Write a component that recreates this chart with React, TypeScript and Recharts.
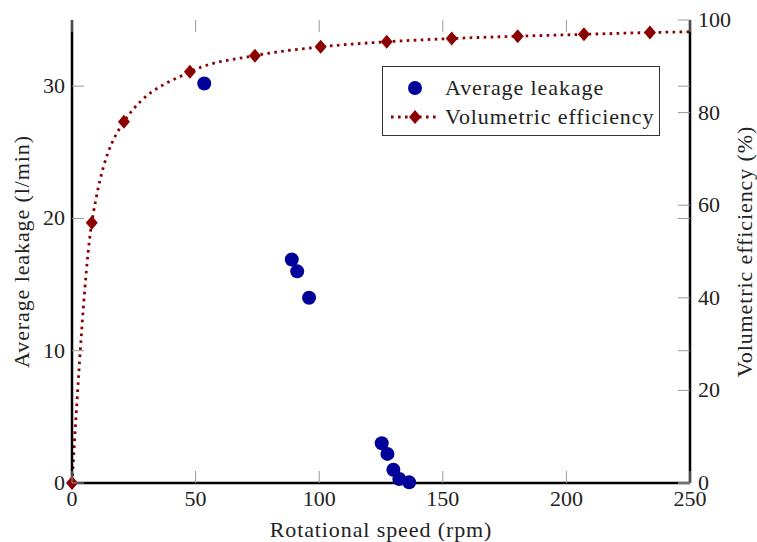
import React from 'react';
import {
  ComposedChart,
  Line,
  Scatter,
  XAxis,
  YAxis,
  Legend
} from 'recharts';

// Rotational speed ticks / axis ranges
const speedTicks = [0, 50, 100, 150, 200, 250];
const leakTicks = [0, 10, 20, 30];
const effTicks = [0, 20, 40, 60, 80, 100];
const SPEED_MAX = 250;

// Average leakage (l/min) vs rotational speed (rpm)
const leakSpeed = [53.5, 88.9, 91.1, 95.9, 125.3, 127.6, 130.0, 132.4, 136.4];
const leakValue = [30.2, 16.9, 16.0, 14.0, 3.0, 2.2, 1.0, 0.3, 0.05];

// Volumetric efficiency (%) vs rotational speed (rpm), last point runs past the axis
const effSpeed = [0, 8.0, 21.0, 47.7, 74.0, 100.6, 127.3, 153.6, 180.3, 207.1, 233.8, 260.5];
const effValue = [0, 56.2, 78.0, 88.8, 92.3, 94.2, 95.3, 96.0, 96.5, 96.9, 97.3, 97.5];

const W = 757;
const H = 542;
const LEFT_W = 72;
const RIGHT_W = 67;
const TOP = 20;
const BOTTOM_H = 59;
const PW = W - LEFT_W - RIGHT_W;
const PH = H - TOP - BOTTOM_H;

const FONT = "'Liberation Serif', 'Times New Roman', serif";
const TEXT = '#222';
const TICK = '#999';
const BLUE = '#00009a';
const RED = '#8b0000';
const TICK_LEN = 12;
const DASH = '2.6 4.4';

const leakData = leakSpeed.map((s, i) => ({ speed: s, leak: leakValue[i] }));
const effData = effSpeed.map((s, i) => ({ speed: s, eff: effValue[i] }));
// markers only for the points inside the x range (not clipped at the corner)
const effMarkers = effData.filter((d) => d.speed <= SPEED_MAX);

const BottomTick = (props: any) => {
  const { x, y, payload } = props;
  return (
    <g>
      <line x1={x} x2={x} y1={y} y2={y - TICK_LEN} stroke={TICK} strokeWidth={1} />
      <line x1={x} x2={x} y1={y - PH} y2={y - PH + TICK_LEN} stroke={TICK} strokeWidth={1} />
      <text x={x} y={y + 23} textAnchor="middle" fontFamily={FONT} fontSize={22} fill={TEXT}>
        {payload.value}
      </text>
    </g>
  );
};

const LeftTick = (props: any) => {
  const { x, y, payload } = props;
  return (
    <g>
      <line x1={x} x2={x + TICK_LEN} y1={y} y2={y} stroke={TICK} strokeWidth={1} />
      <line x1={x + PW} x2={x + PW - TICK_LEN} y1={y} y2={y} stroke={TICK} strokeWidth={1} />
      <text x={x - 7} y={y + 7} textAnchor="end" fontFamily={FONT} fontSize={22} fill={TEXT}>
        {payload.value}
      </text>
    </g>
  );
};

const RightTick = (props: any) => {
  const { x, y, payload } = props;
  return (
    <g>
      <line x1={x} x2={x - TICK_LEN} y1={y} y2={y} stroke={TICK} strokeWidth={1} />
      <text x={x + 8} y={y + 7} textAnchor="start" fontFamily={FONT} fontSize={22} fill={TEXT}>
        {payload.value}
      </text>
    </g>
  );
};

const LeftTitle = (props: any) => {
  const { x, y, height } = props.viewBox;
  const cx = x + 29;
  const cy = y + height / 2;
  return (
    <text x={cx} y={cy} transform={`rotate(-90 ${cx} ${cy})`} textAnchor="middle"
      fontFamily={FONT} fontSize={22} letterSpacing={0.9} fill={TEXT}>
      Average leakage (l/min)
    </text>
  );
};

const RightTitle = (props: any) => {
  const { x, y, height } = props.viewBox;
  const cx = x + 62;
  const cy = y + height / 2;
  return (
    <text x={cx} y={cy} transform={`rotate(-90 ${cx} ${cy})`} textAnchor="middle"
      fontFamily={FONT} fontSize={22} letterSpacing={0.9} fill={TEXT}>
      Volumetric efficiency (%)
    </text>
  );
};

const BottomTitle = (props: any) => {
  const { x, y, width } = props.viewBox;
  return (
    <text x={x + width / 2} y={y + 54} textAnchor="middle"
      fontFamily={FONT} fontSize={22} letterSpacing={0.9} fill={TEXT}>
      Rotational speed (rpm)
    </text>
  );
};

const Diamond = (props: any) => {
  const { cx, cy } = props;
  if (cx == null || cy == null) return null;
  return (
    <polygon
      points={`${cx},${cy - 7} ${cx + 6},${cy} ${cx},${cy + 7} ${cx - 6},${cy}`}
      fill={RED}
    />
  );
};

const Dot = (props: any) => {
  const { cx, cy } = props;
  return <circle cx={cx} cy={cy} r={7} fill={BLUE} />;
};

const LegendBox = () => (
  <div
    style={{
      width: 278,
      height: 70,
      border: '1px solid #333',
      background: '#fff',
      fontFamily: FONT,
      fontSize: 22,
      letterSpacing: 0.9,
      color: TEXT,
      boxSizing: 'border-box'
    }}
  >
    <div style={{ display: 'flex', alignItems: 'center', height: 31, marginTop: 5 }}>
      <svg width={62} height={20}>
        <circle cx={32} cy={10} r={7} fill={BLUE} />
      </svg>
      <span>Average leakage</span>
    </div>
    <div style={{ display: 'flex', alignItems: 'center', height: 28 }}>
      <svg width={62} height={20}>
        <line x1={8} x2={54} y1={10} y2={10} stroke={RED} strokeWidth={2.8} strokeDasharray={DASH} />
        <polygon points="32,3 38,10 32,17 26,10" fill={RED} />
      </svg>
      <span>Volumetric efficiency</span>
    </div>
  </div>
);

const App: React.FC = () => {
  return (
    <div style={{ position: 'absolute', left: 0, top: 0, width: W, height: H, background: '#fff' }}>
      <ComposedChart width={W} height={H} margin={{ top: TOP, right: 0, bottom: 0, left: 0 }}>
        <XAxis
          xAxisId="bottom"
          type="number"
          dataKey="speed"
          domain={[0, SPEED_MAX]}
          ticks={speedTicks}
          allowDataOverflow
          height={BOTTOM_H}
          tickSize={0}
          tickMargin={0}
          tickLine={false}
          tick={<BottomTick />}
          axisLine={{ stroke: '#000', strokeWidth: 2.5 }}
          label={<BottomTitle />}
        />
        <XAxis
          xAxisId="top"
          orientation="top"
          type="number"
          dataKey="speed"
          domain={[0, SPEED_MAX]}
          ticks={speedTicks}
          allowDataOverflow
          height={0}
          tick={false}
          tickLine={false}
          axisLine={{ stroke: '#000', strokeWidth: 2.5 }}
        />
        <XAxis
          xAxisId="markers"
          type="number"
          dataKey="speed"
          domain={[0, SPEED_MAX]}
          hide
        />
        <YAxis
          yAxisId="leak"
          type="number"
          domain={[0, 35]}
          ticks={leakTicks}
          width={LEFT_W}
          tickSize={0}
          tickMargin={0}
          tickLine={false}
          tick={<LeftTick />}
          axisLine={{ stroke: '#000', strokeWidth: 2.5 }}
          label={<LeftTitle />}
        />
        <YAxis
          yAxisId="eff"
          orientation="right"
          type="number"
          domain={[0, 100]}
          ticks={effTicks}
          width={RIGHT_W}
          tickSize={0}
          tickMargin={0}
          tickLine={false}
          tick={<RightTick />}
          axisLine={{ stroke: '#000', strokeWidth: 2.5 }}
          label={<RightTitle />}
        />
        <Line
          xAxisId="bottom"
          yAxisId="eff"
          data={effData}
          dataKey="eff"
          type="monotone"
          stroke={RED}
          strokeWidth={2.8}
          strokeDasharray={DASH}
          dot={false}
          activeDot={false}
          isAnimationActive={false}
        />
        <Scatter
          xAxisId="markers"
          yAxisId="eff"
          data={effMarkers}
          dataKey="eff"
          shape={<Diamond />}
          isAnimationActive={false}
        />
        <Scatter
          xAxisId="bottom"
          yAxisId="leak"
          data={leakData}
          dataKey="leak"
          shape={<Dot />}
          isAnimationActive={false}
        />
        <Legend
          layout="vertical"
          align="center"
          verticalAlign="middle"
          wrapperStyle={{ position: 'absolute', left: 382, top: 66, width: 'auto' }}
          content={<LegendBox />}
        />
      </ComposedChart>
    </div>
  );
};

export default App;
